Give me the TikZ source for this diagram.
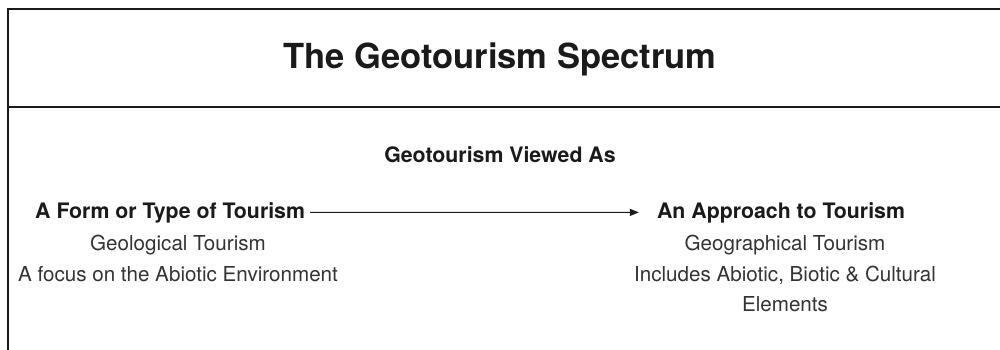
\documentclass[tikz,border=0pt]{standalone}
\usepackage{fontspec}
\setmainfont{TeX Gyre Heros}
\usetikzlibrary{arrows.meta}
\definecolor{inkdark}{HTML}{1A1A1A}
\definecolor{inkgray}{HTML}{333333}
\begin{document}
\begin{tikzpicture}[x=1pt,y=-1pt,
  frame/.style={draw=inkdark,line width=2.2pt},
  titletext/.style={inner sep=0pt,text=inkdark,font=\fontsize{34.5}{40}\selectfont\bfseries},
  headtext/.style={inner sep=0pt,text=inkdark,font=\fontsize{21.3}{25}\selectfont\bfseries},
  subtext/.style={inner sep=0pt,text=inkgray,align=center,font=\fontsize{20.6}{30.5}\selectfont},
  conn/.style={draw=inkdark,line width=1.1pt,-{Triangle[length=9pt,width=7pt]},shorten <=5pt,shorten >=18pt}]
  \useasboundingbox (0,0) rectangle (1000,350);
  \draw[frame] (8,352) -- (8,9) -- (1002,9);
  \draw[frame] (8,107) -- (1002,107);
  \node[titletext,anchor=base] (title) at (500,69) {The Geotourism Spectrum};
  \node[headtext,anchor=base] (viewed) at (500,162) {Geotourism Viewed As};
  \node[headtext,anchor=base west] (form) at (35,218) {A Form or Type of Tourism};
  \node[headtext,anchor=base] (approach) at (781,218) {An Approach to Tourism};
  \draw[conn] (form.east) -- (approach.west);
  \node[subtext,anchor=north] (geology) at (178,235) {Geological Tourism\\A focus on the Abiotic Environment};
  \node[subtext,anchor=north] (geography) at (785,235) {Geographical Tourism\\Includes Abiotic, Biotic \& Cultural\\Elements};
\end{tikzpicture}
\end{document}
